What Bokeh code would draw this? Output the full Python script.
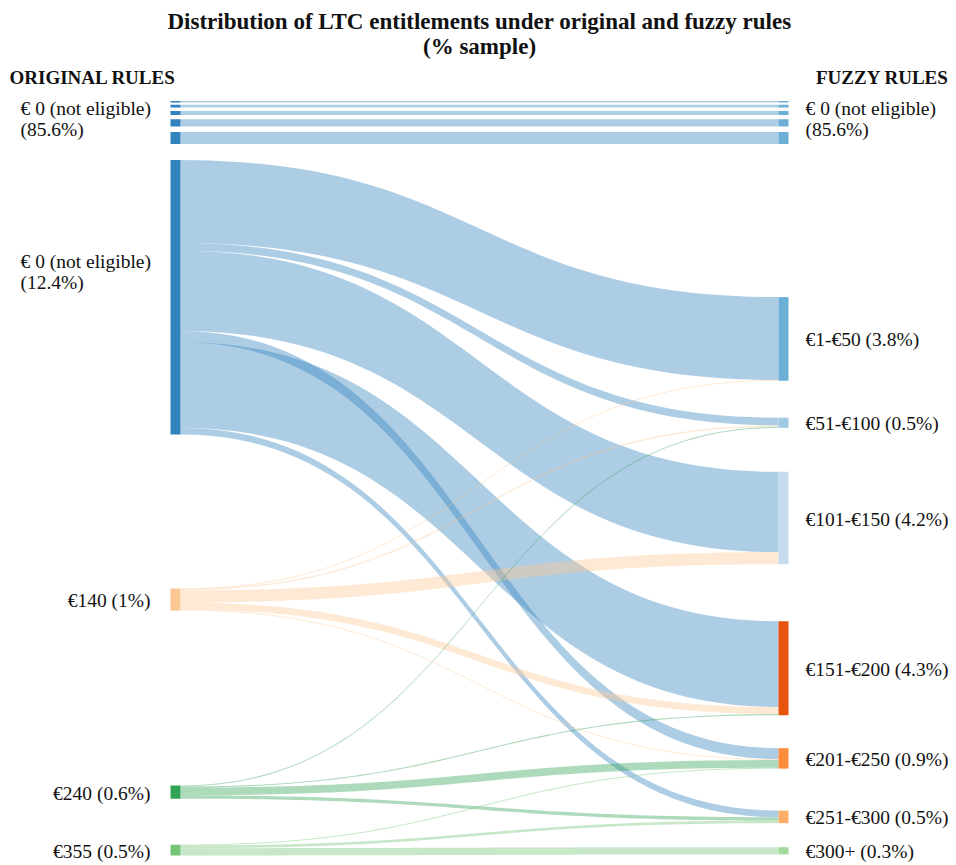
import numpy as np
from bokeh.plotting import figure
from bokeh.models import Range1d
from bokeh.core.properties import value
from bokeh.embed import file_html
from bokeh.resources import INLINE

# ---------------- data ----------------
title_lines = ["Distribution of LTC entitlements under original and fuzzy rules", "(% sample)"]
left_header = "ORIGINAL RULES"
right_header = "FUZZY RULES"

# not-eligible group (85.6%), drawn as compressed strips
ne_label = ["€ 0 (not eligible)", "(85.6%)"]
ne_strips = [0.07, 0.12, 0.18, 0.33, 0.55]

left_labels = [["€ 0 (not eligible)", "(12.4%)"], ["€140 (1%)"], ["€240 (0.6%)"], ["€355 (0.5%)"]]
right_labels = ["€1-€50 (3.8%)", "€51-€100 (0.5%)", "€101-€150 (4.2%)", "€151-€200 (4.3%)",
                "€201-€250 (0.9%)", "€251-€300 (0.5%)", "€300+ (0.3%)"]

# flows, listed in the order they leave each source node
flow_source = [0, 0, 0, 0, 0, 0, 1, 1, 1, 1, 1, 2, 2, 2, 2, 3, 3, 3]
flow_target = [0, 1, 2, 4, 3, 5, 0, 1, 2, 3, 4, 1, 3, 4, 5, 4, 5, 6]
flow_value = [3.77, 0.35, 3.65, 0.50, 3.90, 0.30,
              0.03, 0.06, 0.55, 0.32, 0.04,
              0.05, 0.05, 0.35, 0.15,
              0.04, 0.12, 0.33]

left_colors = ["#3182bd", "#fdc794", "#31a354", "#74c476"]
right_colors = ["#6baed6", "#9ecae1", "#c6dbef", "#e6550d", "#fd8d3c", "#fdae6b", "#a1d99b"]
ne_left_color = "#3182bd"
ne_right_color = "#6baed6"

# ---------------- layout (style) ----------------
K = 22.0            # px per % of sample
NODE_W = 10
XL = 170            # left node x
XR = 778            # right node x
STRIP_TOP = 100.5
strip_gaps = [2.2, 3.6, 4.2, 5.6]
left_gaps = [16, 154, 175, 46]
right_gaps = [153, 37, 44, 57, 33, 42, 24]
LINK_ALPHA = 0.4
FONT = "Liberation Serif"
TXT = "#111111"

W, H = 950, 862
p = figure(width=W, height=H, output_backend="svg", toolbar_location=None,
           x_range=Range1d(0, W), y_range=Range1d(H, 0),
           min_border=0, outline_line_color=None)
p.axis.visible = False
p.grid.visible = False
p.background_fill_color = "white"
p.border_fill_color = "white"


def bez(x0, y0, x1, y1, n=60):
    t = np.linspace(0, 1, n)
    xm = (x0 + x1) / 2
    x = (1 - t) ** 3 * x0 + 3 * (1 - t) ** 2 * t * xm + 3 * (1 - t) * t ** 2 * xm + t ** 3 * x1
    y = (1 - t) ** 3 * y0 + 3 * (1 - t) ** 2 * t * y0 + 3 * (1 - t) * t ** 2 * y1 + t ** 3 * y1
    return x, y


# strips of the not-eligible group
strip_y = []
y = STRIP_TOP
for i, v in enumerate(ne_strips):
    h = v * K
    strip_y.append((y, y + h))
    y += h
    if i < len(strip_gaps):
        y += strip_gaps[i]
strip_bottom = y

tops = [a for a, b in strip_y]
bots = [b for a, b in strip_y]
ns = len(strip_y)
p.quad(left=[XL + NODE_W] * ns, right=[XR] * ns, top=tops, bottom=bots,
       fill_color=ne_left_color, fill_alpha=LINK_ALPHA, line_color=None)
p.quad(left=[XL] * ns, right=[XL + NODE_W] * ns, top=tops, bottom=bots,
       fill_color=ne_left_color, line_color=None)
p.quad(left=[XR] * ns, right=[XR + NODE_W] * ns, top=tops, bottom=bots,
       fill_color=ne_right_color, line_color=None)

# node sizes
nL = len(left_labels)
nR = len(right_labels)
lsum = [sum(v for s, v in zip(flow_source, flow_value) if s == i) for i in range(nL)]
rsum = [sum(v for t, v in zip(flow_target, flow_value) if t == j) for j in range(nR)]

ltop = []
y = strip_bottom
for i in range(nL):
    y += left_gaps[i]
    ltop.append(y)
    y += lsum[i] * K
rtop = []
y = strip_bottom
for j in range(nR):
    y += right_gaps[j]
    rtop.append(y)
    y += rsum[j] * K

# link offsets
lcur = list(ltop)
src_pos = {}
for k in range(len(flow_value)):
    i = flow_source[k]
    h = flow_value[k] * K
    src_pos[k] = (lcur[i], lcur[i] + h)
    lcur[i] += h
rcur = list(rtop)
tgt_pos = {}
for j in range(nR):
    for k in sorted([k for k in range(len(flow_value)) if flow_target[k] == j], key=lambda k: flow_source[k]):
        h = flow_value[k] * K
        tgt_pos[k] = (rcur[j], rcur[j] + h)
        rcur[j] += h

xs, ys, cols = [], [], []
for k in range(len(flow_value)):
    s0, s1 = src_pos[k]
    t0, t1 = tgt_pos[k]
    # keep very thin links visible (min ~1px)
    if s1 - s0 < 1.0:
        c = (s0 + s1) / 2; s0, s1 = c - 0.5, c + 0.5
        c = (t0 + t1) / 2; t0, t1 = c - 0.5, c + 0.5
    xa, ya = bez(XL + NODE_W, s0, XR, t0)
    xb, yb = bez(XL + NODE_W, s1, XR, t1)
    xs.append(list(xa) + list(xb[::-1]))
    ys.append(list(ya) + list(yb[::-1]))
    cols.append(left_colors[flow_source[k]])
p.patches(xs=xs, ys=ys, fill_color=cols, fill_alpha=LINK_ALPHA, line_color=None)

# nodes
p.quad(left=[XL] * nL, right=[XL + NODE_W] * nL, top=ltop,
       bottom=[t + s * K for t, s in zip(ltop, lsum)], fill_color=left_colors, line_color=None)
p.quad(left=[XR] * nR, right=[XR + NODE_W] * nR, top=rtop,
       bottom=[t + s * K for t, s in zip(rtop, rsum)], fill_color=right_colors, line_color=None)

LABEL_SIZE = "19.5px"
LINE_H = 21

# title and headers
p.text(x=[479, 479], y=[21, 46], text=title_lines, text_font=value(FONT), text_font_style="bold",
       text_font_size="23px", text_align="center", text_baseline="middle", text_color=TXT)
p.text(x=[9], y=[77], text=[left_header], text_font=value(FONT), text_font_style="bold",
       text_font_size="19px", text_align="left", text_baseline="middle", text_color=TXT)
p.text(x=[948], y=[77], text=[right_header], text_font=value(FONT), text_font_style="bold",
       text_font_size="19px", text_align="right", text_baseline="middle", text_color=TXT)

# labels for not-eligible group
ne_c = (STRIP_TOP + strip_bottom) / 2 - 4
for side_x in (20, XR + NODE_W + 17):
    p.text(x=[side_x] * 2, y=[ne_c - LINE_H / 2, ne_c + LINE_H / 2], text=ne_label,
           text_font=value(FONT), text_font_size=LABEL_SIZE, text_align="left",
           text_baseline="middle", text_color=TXT)

# left labels
for i in range(nL):
    c = ltop[i] + lsum[i] * K / 2
    lines = left_labels[i]
    if len(lines) > 1:
        c0 = c - 25
        p.text(x=[20] * len(lines), y=[c0 + (m - (len(lines) - 1) / 2) * LINE_H for m in range(len(lines))],
               text=lines, text_font=value(FONT), text_font_size=LABEL_SIZE, text_align="left",
               text_baseline="middle", text_color=TXT)
    else:
        p.text(x=[XL - 20], y=[c + 1], text=lines, text_font=value(FONT), text_font_size=LABEL_SIZE,
               text_align="right", text_baseline="middle", text_color=TXT)

# right labels
rc = [t + s * K / 2 for t, s in zip(rtop, rsum)]
p.text(x=[XR + NODE_W + 17] * nR, y=[c + 1 for c in rc], text=right_labels, text_font=value(FONT),
       text_font_size=LABEL_SIZE, text_align="left", text_baseline="middle", text_color=TXT)

open("out.html", "w").write(file_html(p, INLINE))
